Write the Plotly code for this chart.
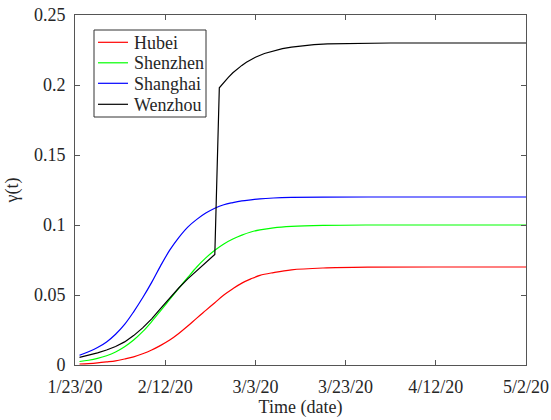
import pandas as pd
import plotly.graph_objects as go

START_DATE = "2020-01-23"

# Day offsets (from 1/23/20) and γ(t) values
hubei_days = [1, 3, 5, 7, 9, 11, 13, 15, 17, 19, 21, 23, 25, 27, 29, 31, 33, 35, 37, 39, 41,
              44, 48, 55, 65, 80, 100]
hubei_vals = [0.0007, 0.001, 0.0015, 0.0022, 0.003, 0.0043, 0.0058, 0.008, 0.0107, 0.014, 0.0178,
              0.0225, 0.0278, 0.0335, 0.039, 0.0445, 0.050, 0.0545, 0.0585, 0.0615, 0.064,
              0.066, 0.068, 0.0693, 0.0699, 0.07, 0.07]

shenzhen_days = [1, 3, 5, 7, 9, 11, 13, 15, 17, 19, 21, 23, 25, 27, 29, 31, 33, 35, 37, 39, 41,
                 44, 48, 55, 65, 80, 100]
shenzhen_vals = [0.0025, 0.0034, 0.0047, 0.0066, 0.0093, 0.013, 0.0178, 0.0238, 0.031, 0.0388,
                 0.0468, 0.0548, 0.0625, 0.070, 0.0765, 0.082, 0.0865, 0.090, 0.0928, 0.095,
                 0.0965, 0.098, 0.099, 0.0997, 0.1, 0.1, 0.1]

shanghai_days = [1, 3, 5, 7, 9, 11, 13, 15, 17, 19, 21, 23, 25, 27, 29, 31, 33, 35, 37, 39, 41,
                 44, 48, 55, 65, 80, 100]
shanghai_vals = [0.007, 0.0095, 0.0125, 0.0165, 0.022, 0.029, 0.038, 0.048, 0.059, 0.071, 0.082,
                 0.091, 0.0985, 0.104, 0.1085, 0.112, 0.1145, 0.116, 0.1172, 0.118, 0.1187,
                 0.1193, 0.1197, 0.1199, 0.12, 0.12, 0.12]

wenzhou_days = [1, 3, 5, 7, 9, 11, 13, 15, 17, 19, 21, 23, 25, 27, 29, 31,
                32, 33, 34, 35, 36, 37, 38, 39, 40, 42, 44, 46, 48, 50, 53, 56, 60, 70, 100]
wenzhou_vals = [0.0055, 0.007, 0.0087, 0.0107, 0.0132, 0.0165, 0.021, 0.0265, 0.033, 0.0405,
                0.048, 0.055, 0.0615, 0.0675, 0.0733, 0.079,
                0.198, 0.202, 0.2055, 0.2087, 0.2115, 0.214, 0.2162, 0.2181, 0.2198, 0.2225,
                0.2245, 0.226, 0.2271, 0.228, 0.2289, 0.2294, 0.2297, 0.23, 0.23]

y_tickvals = [0, 0.05, 0.1, 0.15, 0.2, 0.25]
y_ticktext = ["0", "0.05", "0.1", "0.15", "0.2", "0.25"]
x_tick_days = [0, 20, 40, 60, 80, 100]

series = [
    ("Hubei", hubei_days, hubei_vals, "#ff0000", "spline"),
    ("Shenzhen", shenzhen_days, shenzhen_vals, "#00ff00", "spline"),
    ("Shanghai", shanghai_days, shanghai_vals, "#0000ff", "spline"),
    ("Wenzhou", wenzhou_days, wenzhou_vals, "#000000", "linear"),
]

W, H = 551, 420
ML, MR, MT, MB = 75, 25, 15, 55
PW, PH = W - ML - MR, H - MT - MB

def px_x(x):
    return (x - ML) / PW

def px_y(y):
    return (H - MB - y) / PH

base = pd.Timestamp(START_DATE)

def to_dates(days):
    return [base + pd.Timedelta(days=d) for d in days]

FONT = "Liberation Serif, Times New Roman, serif"
TEXT = "#262626"
axis_color = "#555555"

fig = go.Figure()
for name, days, vals, color, shape in series:
    line = dict(color=color, width=1.2, shape=shape)
    if shape == "spline":
        line["smoothing"] = 1.0
    fig.add_trace(go.Scatter(x=to_dates(days), y=vals, name=name, mode="lines",
                             line=line, showlegend=False))

# Legend drawn as a boxed key (matching the MATLAB-style legend)
shapes = [dict(type="rect", xref="paper", yref="paper",
               x0=px_x(94), x1=px_x(206), y0=px_y(117), y1=px_y(30),
               line=dict(color="#333333", width=1), fillcolor="white", layer="above")]
annotations = []
row_y = [42.3, 62.8, 83.3, 104.3]
for (name, _, _, color, _), yy in zip(series, row_y):
    shapes.append(dict(type="line", xref="paper", yref="paper",
                       x0=px_x(98), x1=px_x(128), y0=px_y(yy), y1=px_y(yy),
                       line=dict(color=color, width=1.2), layer="above"))
    annotations.append(dict(xref="paper", yref="paper", x=px_x(132), y=px_y(yy + 0.5),
                            text=name, showarrow=False, xanchor="left", yanchor="middle",
                            font=dict(family=FONT, size=18, color=TEXT)))

fig.update_layout(
    width=W, height=H,
    margin=dict(l=ML, r=MR, t=MT, b=MB),
    paper_bgcolor="white", plot_bgcolor="white",
    font=dict(family=FONT, size=18, color=TEXT),
    showlegend=False,
    shapes=shapes, annotations=annotations,
    xaxis=dict(
        range=[base, base + pd.Timedelta(days=100)],
        tickvals=to_dates(x_tick_days),
        tickformat="%-m/%-d/%y",
        ticks="inside", ticklen=5, tickcolor=axis_color,
        showline=True, linecolor=axis_color, linewidth=1, mirror="ticks",
        showgrid=False, zeroline=False, automargin=False,
        ticklabelstandoff=5,
        tickfont=dict(family=FONT, size=18, color=TEXT),
        title=dict(text="Time (date)", font=dict(family=FONT, size=18, color=TEXT), standoff=4),
    ),
    yaxis=dict(
        range=[0, 0.25],
        tickvals=y_tickvals, ticktext=y_ticktext,
        ticks="inside", ticklen=5, tickcolor=axis_color,
        showline=True, linecolor=axis_color, linewidth=1, mirror="ticks",
        showgrid=False, zeroline=False, automargin=False,
        ticklabelstandoff=5,
        tickfont=dict(family=FONT, size=18, color=TEXT),
        title=dict(text="γ(t)", font=dict(family=FONT, size=18, color=TEXT), standoff=10),
    ),
)

fig.write_html("out.html", config={"displayModeBar": False},
               post_script="document.body.style.margin='0';")
